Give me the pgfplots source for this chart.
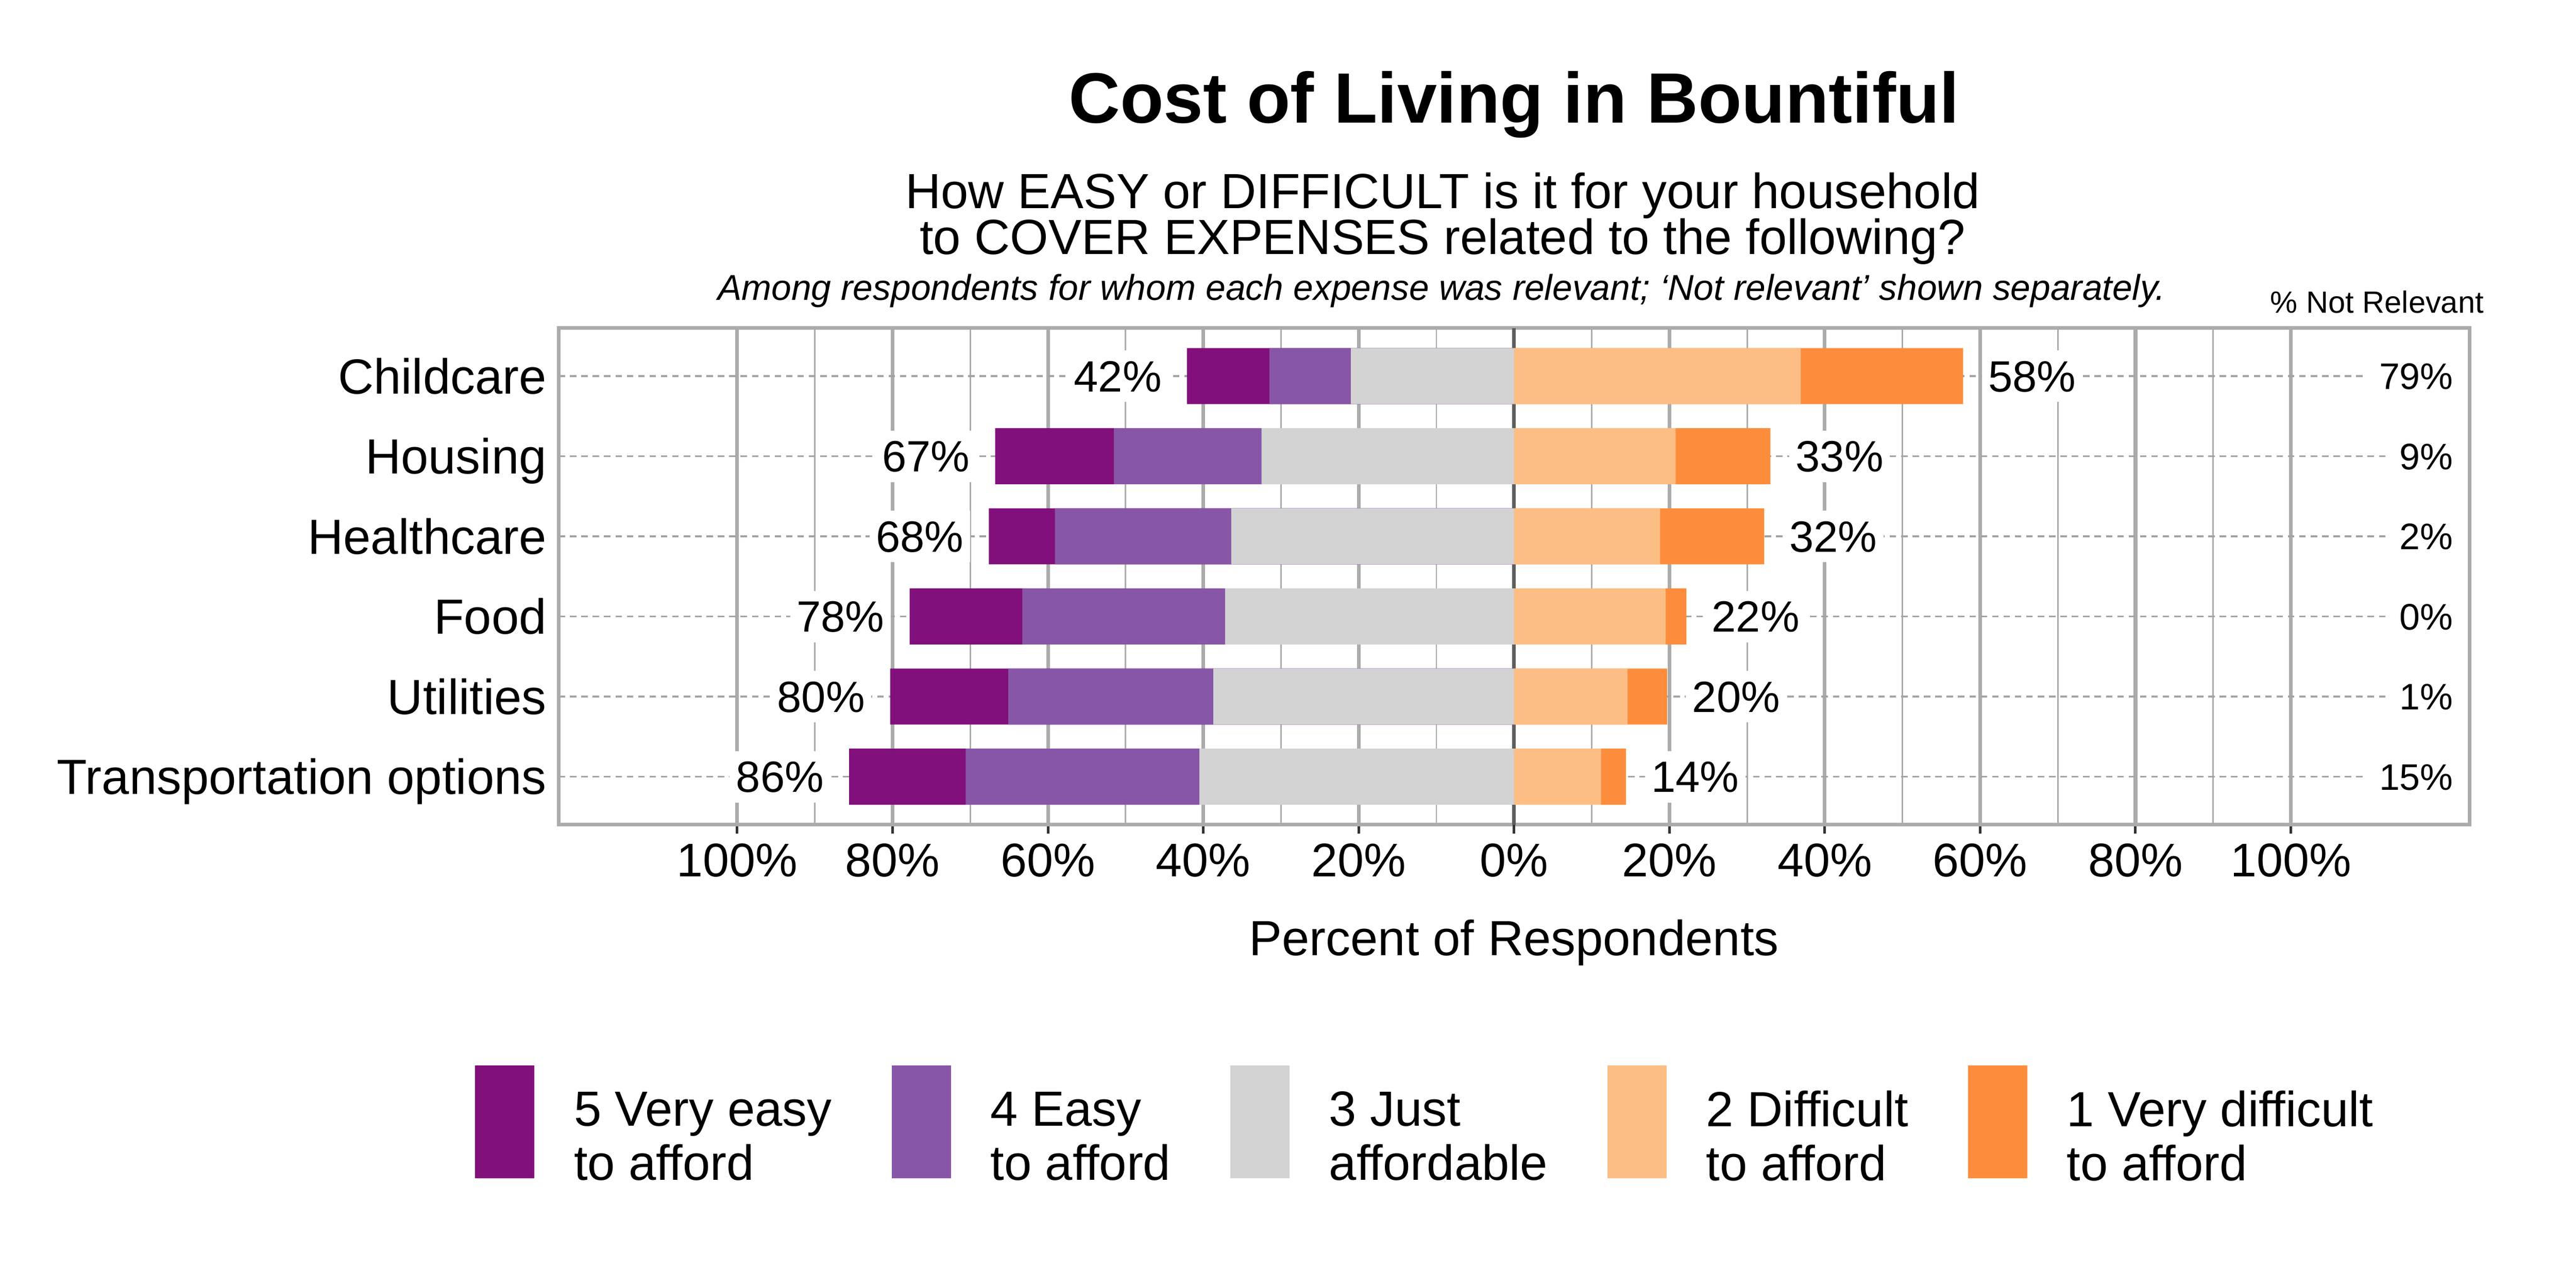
\documentclass[border=0pt]{standalone}
\usepackage{fontspec}
\setmainfont{Liberation Sans}
\usepackage{pgfplots}
\usepackage{pgfplotstable}
\pgfplotsset{compat=1.18}

\definecolor{c5}{HTML}{810F7C}
\definecolor{c4}{HTML}{8856A7}
\definecolor{c3}{HTML}{D3D3D3}
\definecolor{c2}{HTML}{FDBE85}
\definecolor{c1}{HTML}{FD8D3C}
\definecolor{gridgray}{HTML}{ABABAB}
\definecolor{zerogray}{HTML}{5E5E5E}
\definecolor{dashgray}{HTML}{A3A3A3}

% y: 6 = Childcare ... 1 = Transportation options
% segment ends (cumulative): e5 e4 e3 on the easy side, e1 e2 on the difficult side
\pgfplotstableread{
y  e5     e4     e3     e2    e1    ll  rl  nx     nr
6  -42.1  -31.5  -21.0  36.9  57.8  42  58  122.6  79
5  -66.8  -51.5  -32.5  20.8  33.0  67  33  122.6  9
4  -67.6  -59.1  -36.4  18.8  32.2  68  32  122.6  2
3  -77.8  -63.3  -37.2  19.5  22.2  78  22  122.6  0
2  -80.3  -65.1  -38.7  14.6  19.7  80  20  122.6  1
1  -85.6  -70.6  -40.5  11.2  14.4  86  14  122.6  15
}\costdata

\tikzset{
  barlabel/.style={font=\fontsize{10.2}{12}\selectfont, fill=white, inner xsep=1.5pt,
    inner ysep=0pt, text height=7.3pt, text depth=0pt, minimum height=12pt},
}
\pgfplotsset{
  likertkey/.style={legend image code/.code={\fill[##1] (0pt,-9.2pt) rectangle (13.8pt,17.1pt);}},
  panel/.style={at={(130.1pt,107.9pt)}, anchor=south west, scale only axis,
    width=445.1pt, height=115.7pt, xmin=-123, xmax=123, ymin=0.4, ymax=6.6},
}

\begin{document}
\begin{tikzpicture}
\useasboundingbox (0,0) rectangle (600pt,300pt);
\begin{axis}[
  panel,
  bar width=13.07pt,
  axis line style={draw=gridgray, line width=0.85pt},
  xtick={-100,-80,...,100},
  xticklabels={100\%,80\%,60\%,40\%,20\%,0\%,20\%,40\%,60\%,80\%,100\%},
  minor xtick={-90,-70,...,90},
  ytick={1,...,6},
  yticklabels={Transportation options,Utilities,Food,Healthcare,Housing,Childcare},
  xmajorgrids, xminorgrids, ymajorgrids,
  major x grid style={draw=gridgray, line width=0.85pt},
  minor x grid style={draw=gridgray, line width=0.35pt},
  major y grid style={draw=dashgray, line width=0.4pt, dash pattern=on 1.5pt off 1.15pt},
  extra x ticks={0}, extra x tick labels={},
  extra x tick style={major x grid style={draw=zerogray, line width=0.85pt}},
  tick align=outside, major tick length=2pt, minor tick length=0pt,
  xtick pos=left,
  xtick style={draw=black!80, line width=0.6pt},
  ytick style={draw=none},
  xticklabel style={font=\fontsize{11}{13}\selectfont, inner sep=0pt, anchor=north, yshift=-2.2pt},
  yticklabel style={font=\fontsize{11.5}{13}\selectfont, inner sep=0pt, anchor=east,
    text height=8.2pt, text depth=0pt, xshift=-0.6pt},
  legend columns=5,
  legend cell align=left,
  legend style={at={(-0.0436,-0.4849)}, anchor=north west, draw=none, fill=none,
    inner sep=0pt, outer sep=0pt,
    nodes={font=\fontsize{11.5}{12.6}\selectfont, align=left, inner sep=0pt},
    /tikz/every odd column/.append style={column sep=9.2pt},
    /tikz/every even column/.append style={column sep=13.9pt}},
]
% outer segments first, inner ones drawn over them
\addplot[xbar, fill=c5, draw=none, forget plot] table[x=e5, y=y] {\costdata};
\addplot[xbar, fill=c4, draw=none, forget plot] table[x=e4, y=y] {\costdata};
\addplot[xbar, fill=c3, draw=none, forget plot] table[x=e3, y=y] {\costdata};
\addplot[xbar, fill=c1, draw=none, forget plot] table[x=e1, y=y] {\costdata};
\addplot[xbar, fill=c2, draw=none, forget plot] table[x=e2, y=y] {\costdata};

\addlegendimage{likertkey, fill=c5, draw=none}
\addlegendentry{5 Very easy\\to afford}
\addlegendimage{likertkey, fill=c4, draw=none}
\addlegendentry{4 Easy\\to afford}
\addlegendimage{likertkey, fill=c3, draw=none}
\addlegendentry{3 Just\\affordable}
\addlegendimage{likertkey, fill=c2, draw=none}
\addlegendentry{2 Difficult\\to afford}
\addlegendimage{likertkey, fill=c1, draw=none}
\addlegendentry{1 Very difficult\\to afford}
\end{axis}

% totals beside the bars and the % not relevant column
\begin{axis}[panel, hide axis, clip=false]
\addplot[draw=none, mark=none,
  nodes near coords={\pgfplotspointmeta\%}, point meta=explicit symbolic,
  every node near coord/.append style={barlabel, anchor=east, xshift=-4.2pt}]
  table[x=e5, y=y, meta=ll] {\costdata};
\addplot[draw=none, mark=none,
  nodes near coords={\pgfplotspointmeta\%}, point meta=explicit symbolic,
  every node near coord/.append style={barlabel, anchor=west, xshift=4.2pt}]
  table[x=e1, y=y, meta=rl] {\costdata};
\addplot[draw=none, mark=none,
  nodes near coords={\pgfplotspointmeta\%}, point meta=explicit symbolic,
  every node near coord/.append style={anchor=east, fill=white,
    font=\fontsize{8.6}{10}\selectfont, inner xsep=2.9pt, inner ysep=0pt,
    text height=6.2pt, text depth=0pt, minimum height=10pt}]
  table[x=nx, y=y, meta=nr] {\costdata};
\end{axis}

\node[anchor=base, font=\bfseries\fontsize{16.6}{20}\selectfont] at (352.65pt,271.4pt) {Cost of Living in Bountiful};
\node[anchor=base, font=\fontsize{11.5}{13}\selectfont] at (336pt,251.5pt) {How EASY or DIFFICULT is it for your household};
\node[anchor=base, font=\fontsize{11.5}{13}\selectfont] at (336pt,240.8pt) {to COVER EXPENSES related to the following?};
\node[anchor=base, font=\itshape\fontsize{8.35}{10}\selectfont] at (335.8pt,230.1pt) {Among respondents for whom each expense was relevant; ‘Not relevant’ shown separately.};
\node[anchor=base east, inner sep=0pt, font=\fontsize{7.15}{9}\selectfont] at (578.7pt,227.1pt) {\% Not Relevant};
\node[anchor=base, font=\fontsize{11.5}{13}\selectfont] at (352.65pt,77.5pt) {Percent of Respondents};
\end{tikzpicture}
\end{document}
